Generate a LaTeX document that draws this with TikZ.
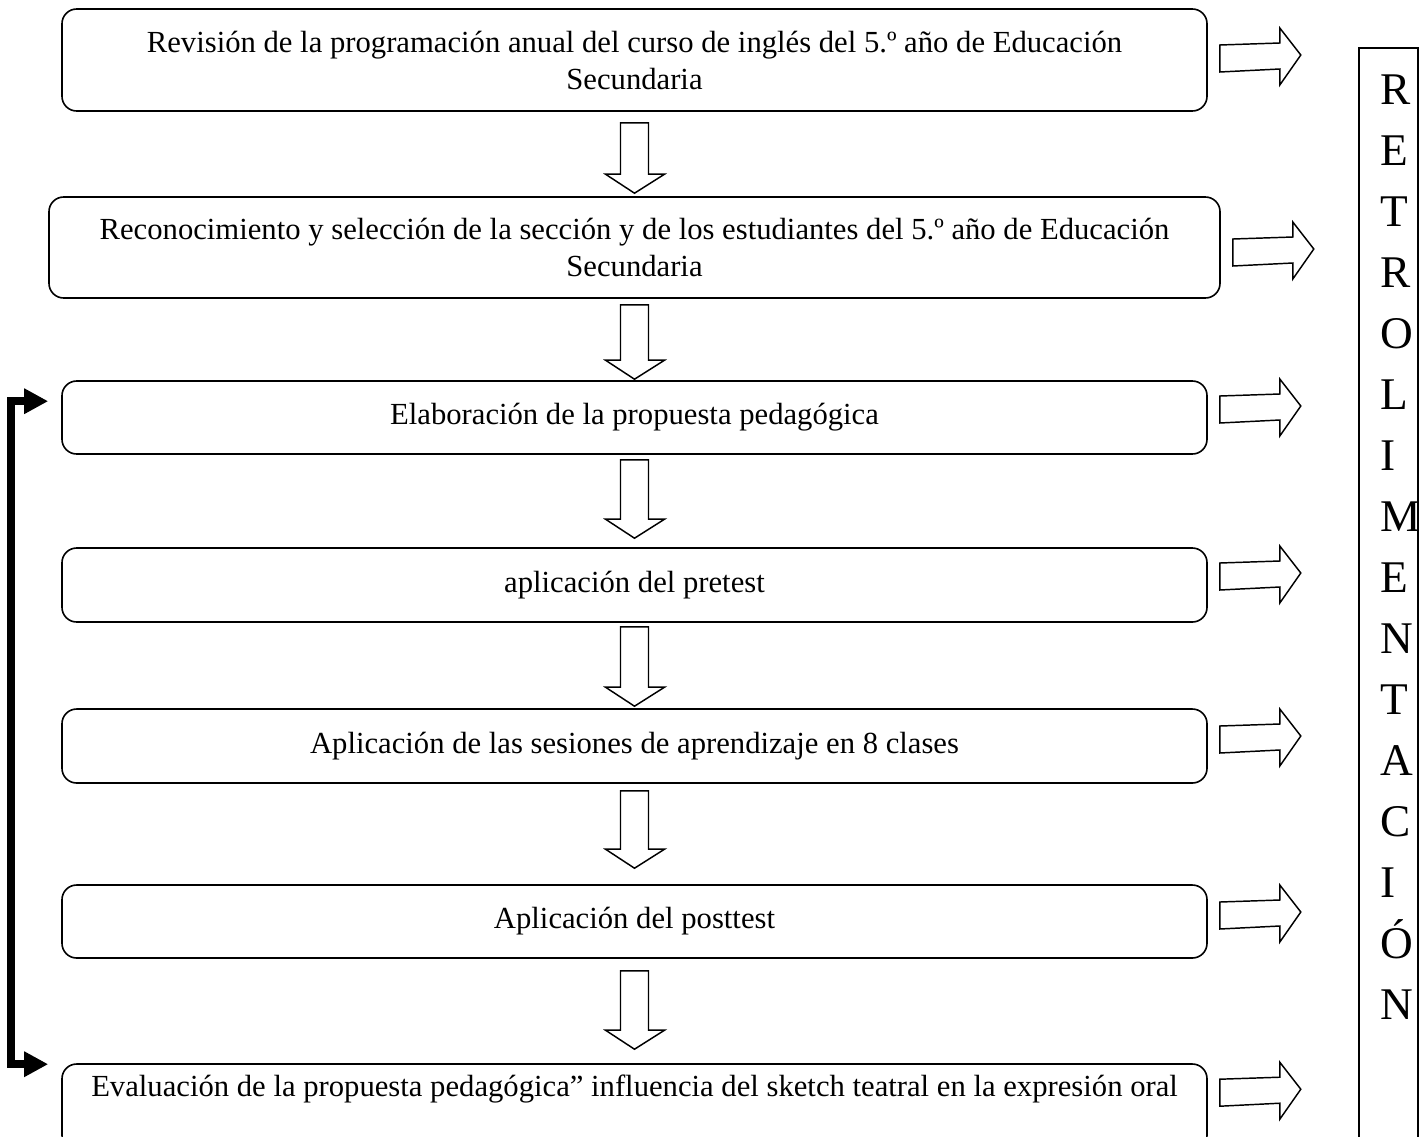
\documentclass[tikz,border=0pt]{standalone}
\usepackage{fontspec}
\setmainfont{Liberation Serif}
\usetikzlibrary{calc,arrows.meta}
\newcommand\mybodyfont{\fontsize{23pt}{27.75pt}\selectfont}
\newcommand\myretrofont{\fontsize{34pt}{40pt}\selectfont}
\tikzset{
  stepbox/.style={draw, line width=1.2pt, rounded corners=11pt, inner sep=0pt,
    align=center, font=\mybodyfont, minimum width=858.75pt},
  blk/.style={draw, line width=1.1pt, line join=miter, fill=white},
  fb/.style={line width=6pt, {Triangle[length=18pt,width=18pt]}-{Triangle[length=18pt,width=18pt]}},
  retroletter/.style={font=\myretrofont, inner sep=0pt, anchor=base west},
  lbl/.style={font=\mybodyfont, inner sep=0pt, align=center}
}
% vertical block arrow: #1 top-centre coordinate, #2 tip coordinate
\newcommand\downblock[2]{%
  \draw[blk] ($(#1)+(-14,0)$) -- ($(#1)+(14,0)$) -- ($(#2)+(14,-19)$) -- ($(#2)+(30,-19)$)
    -- (#2) -- ($(#2)+(-29,-19)$) -- ($(#2)+(-14,-19)$) -- cycle;}
% horizontal block arrow: #1 = tip coordinate
\newcommand\rightblock[1]{%
  \draw[blk] ($(#1)+(-81,-10)$) -- ($(#1)+(-21,-12)$) -- ($(#1)+(-21,-27)$) -- (#1)
    -- ($(#1)+(-21,30)$) -- ($(#1)+(-21,14)$) -- ($(#1)+(-81,17)$) -- cycle;}
\begin{document}
\begin{tikzpicture}[x=0.75pt,y=-0.75pt]
\useasboundingbox (0,0) rectangle (1427,1136);
\clip (0,0) rectangle (1427,1136);

% process boxes
\node[stepbox, minimum height=76.5pt] (b1) at (634.5,60)
  {Revisión de la programación anual del curso de inglés del 5.º año de Educación\\Secundaria};
\node[stepbox, minimum width=878.25pt, minimum height=75.75pt] (b2) at (634.5,247.5)
  {Reconocimiento y selección de la sección y de los estudiantes del 5.º año de Educación\\Secundaria};
\node[stepbox, minimum height=54.75pt] (b3) at (634.5,417.5) {Elaboración de la propuesta pedagógica};
\node[stepbox, minimum height=55.5pt] (b4) at (634.5,585) {aplicación del pretest};
\node[stepbox, minimum height=55.5pt] (b5) at (634.5,746) {Aplicación de las sesiones de aprendizaje en 8 clases};
\node[stepbox, minimum height=54.75pt] (b6) at (634.5,921.5) {Aplicación del posttest};
\node[stepbox, minimum height=64.5pt] (b7) at (634.5,1107) {};
\node[lbl] (t7) at (634.5,1089)
  {Evaluación de la propuesta pedagógica” influencia del sketch teatral en la expresión oral};

% downward block arrows
\coordinate (d1t) at ($(b1.south)+(0,11)$); \coordinate (d1b) at ($(b2.north)+(0,-3)$);
\coordinate (d2t) at ($(b2.south)+(0,6)$);  \coordinate (d2b) at ($(b3.north)+(0,-1)$);
\coordinate (d3t) at ($(b3.south)+(0,5)$);  \coordinate (d3b) at ($(b4.north)+(0,-9)$);
\coordinate (d4t) at ($(b4.south)+(0,4)$);  \coordinate (d4b) at ($(b5.north)+(0,-2)$);
\coordinate (d5t) at ($(b5.south)+(0,7)$);  \coordinate (d5b) at ($(b6.north)+(0,-16)$);
\coordinate (d6t) at ($(b6.south)+(0,12)$); \coordinate (d6b) at ($(b7.north)+(0,-14)$);
\downblock{d1t}{d1b}
\downblock{d2t}{d2b}
\downblock{d3t}{d3b}
\downblock{d4t}{d4b}
\downblock{d5t}{d5b}
\downblock{d6t}{d6b}

% right block arrows
\coordinate (r1) at ($(b1.east)+(93,-5)$);
\coordinate (r2) at ($(b2.east)+(93,1.5)$);
\coordinate (r3) at ($(b3.east)+(93,-11.5)$);
\coordinate (r4) at ($(b4.east)+(93,-12)$);
\coordinate (r5) at ($(b5.east)+(93,-10)$);
\coordinate (r6) at ($(b6.east)+(93,-9.5)$);
\coordinate (r7) at ($(b7.north east)+(93,26)$);
\foreach \r in {r1,r2,r3,r4,r5,r6,r7} {\rightblock{\r}}

% feedback loop
\coordinate (fa) at ($(b3.north west)+(-13,21)$);
\coordinate (fb7) at ($(b7.north west)+(-13,1)$);
\coordinate (vx) at (11,0);
\draw[fb] (fb7) -- (fb7 -| vx) -- (fa -| vx) -- (fa);

% RETROLIMENTACION column
\node[draw, line width=1.2pt, inner sep=0pt, minimum width=44.25pt, minimum height=827.25pt,
  anchor=north west] (retro) at (1358,47) {};
\foreach \l [count=\i from 0] in {R,E,T,R,O,L,I,M,E,N,T,A,C,I,Ó,N}
  \node[retroletter] (L\i) at (1380,104+61*\i) {\l};
\end{tikzpicture}
\end{document}
